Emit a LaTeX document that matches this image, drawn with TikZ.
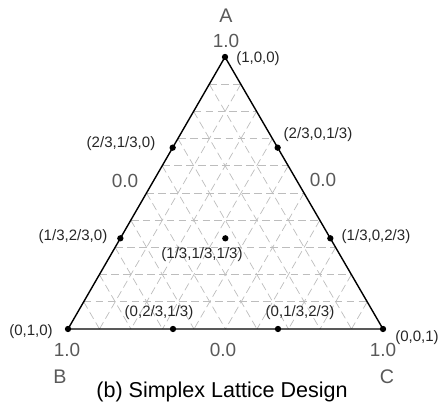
\documentclass[tikz,border=0pt]{standalone}
\usepackage{fontspec}
\setmainfont{Liberation Sans}
\usetikzlibrary{calc}

\begin{document}
\begin{tikzpicture}[x=0.025cm, y=-0.025cm,
    ptlabel/.style={font=\fontsize{10.7}{12}\selectfont, text=black!85},
    axlabel/.style={font=\fontsize{13.5}{15}\selectfont, text=black!65},
    gridline/.style={draw=black!26, dash pattern=on 5.5pt off 3pt, line width=0.5pt},
    dot/.style={circle, fill=black, inner sep=0pt, minimum size=4.5pt}
  ]
    \useasboundingbox (0,0) rectangle (441,405);

    % Corners of the simplex
    \coordinate (A) at (225,57);
    \coordinate (B) at (68,329);
    \coordinate (C) at (383,329);

    % Dashed lattice, steps of 0.1
    \foreach \i in {1,...,9} {
      \draw[gridline] ($(A)!\i/10!(B)$) -- ($(A)!\i/10!(C)$);
      \draw[gridline] ($(B)!\i/10!(A)$) -- ($(B)!\i/10!(C)$);
      \draw[gridline] ($(C)!\i/10!(A)$) -- ($(C)!\i/10!(B)$);
    }

    % Triangle
    \draw[line width=1pt] (A) -- (B) -- (C) -- cycle;

    % Design points
    \node[dot] (p100) at (A) {};
    \node[dot] (p010) at (B) {};
    \node[dot] (p001) at (C) {};
    \node[dot] (pab1) at ($(A)!1/3!(B)$) {};
    \node[dot] (pab2) at ($(A)!2/3!(B)$) {};
    \node[dot] (pac1) at ($(A)!1/3!(C)$) {};
    \node[dot] (pac2) at ($(A)!2/3!(C)$) {};
    \node[dot] (pbc1) at ($(B)!1/3!(C)$) {};
    \node[dot] (pbc2) at ($(B)!2/3!(C)$) {};
    \node[dot] (pmid) at ($(A)!2/3!($(B)!0.5!(C)$)$) {};

    % Point labels
    \node[ptlabel] (l100) at (258,59)  {(1,0,0)};
    \node[ptlabel] (l010) at (31,332)  {(0,1,0)};
    \node[ptlabel] (l001) at (417,338) {(0,0,1)};
    \node[ptlabel] (lab1) at (121,144) {(2/3,1/3,0)};
    \node[ptlabel] (lab2) at (73,237)  {(1/3,2/3,0)};
    \node[ptlabel] (lac1) at (318,135) {(2/3,0,1/3)};
    \node[ptlabel] (lac2) at (376,237) {(1/3,0,2/3)};
    \node[ptlabel] (lmid) at (202,255) {(1/3,1/3,1/3)};
    \node[ptlabel] (lbc1) at (159,313) {(0,2/3,1/3)};
    \node[ptlabel] (lbc2) at (300,313) {(0,1/3,2/3)};

    % Axis values and names
    \node[axlabel] (va)  at (226,41)  {1.0};
    \node[axlabel] (vb)  at (67,350)  {1.0};
    \node[axlabel] (vc)  at (383,350) {1.0};
    \node[axlabel] (zl)  at (125,181) {0.0};
    \node[axlabel] (zr)  at (323,180) {0.0};
    \node[axlabel] (zb)  at (223,350) {0.0};
    \node[axlabel, font=\fontsize{14}{16}\selectfont] (na) at (226,16)  {A};
    \node[axlabel, font=\fontsize{14}{16}\selectfont] (nb) at (60,377)  {B};
    \node[axlabel, font=\fontsize{14}{16}\selectfont] (nc) at (387,377) {C};

    % Caption
    \node[font=\fontsize{15.3}{17}\selectfont] (title) at (222,392) {(b) Simplex Lattice Design};
  \end{tikzpicture}
\end{document}
